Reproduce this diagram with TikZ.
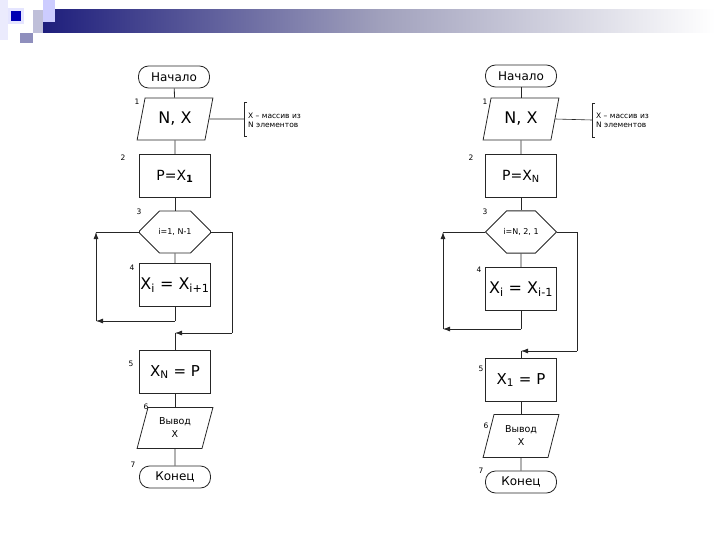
\documentclass[tikz,border=0pt]{standalone}
\usepackage{fontspec}
\setmainfont{DejaVu Sans}
\usetikzlibrary{shapes.geometric,shapes.misc,arrows.meta,calc}
\definecolor{navy}{HTML}{1E1E7C}
\definecolor{midbar}{HTML}{A0A0BC}
\tikzset{
  ln/.style={line width=0.8pt, draw=black!85},
  arr/.style={ln, -{Latex[length=7pt,width=5pt]}},
  term/.style={ln, rectangle, rounded corners=10pt, minimum width=71pt, minimum height=22pt, inner sep=0pt, font=\fontsize{12}{13}\selectfont},
  io/.style={ln, trapezium, trapezium left angle=72, trapezium right angle=108, trapezium stretches=true, minimum width=76pt, minimum height=42pt, inner sep=0pt},
  proc/.style={ln, rectangle, minimum width=71pt, minimum height=43pt, inner sep=0pt},
  hexa/.style={ln, chamfered rectangle, chamfered rectangle xsep=18pt, chamfered rectangle ysep=21pt, minimum width=71pt, minimum height=42pt, inner sep=0pt, font=\fontsize{8}{9}\selectfont},
  num/.style={inner sep=0pt, font=\fontsize{7.5}{8}\selectfont},
  note/.style={inner sep=0pt, anchor=west, align=left, font=\fontsize{7.5}{9}\selectfont},
}
\begin{document}
\begin{tikzpicture}[x=1pt,y=-1pt]
\useasboundingbox (0,0) rectangle (720,540);
% header decoration
\shade[left color=navy, right color=white, middle color=midbar] (43,10) rectangle (715,33);
\fill[black!10!blue!8] (0,0) rectangle (8,40);
\fill[blue!25!gray!40] (33,10) rectangle (43,33);
\fill[blue!20!white] (43,0) rectangle (55,22);
\fill[navy!50!white] (20,33) rectangle (33,43);
\fill[blue!10!white] (8,8) rectangle (24,24);
\fill[blue!70!black] (11,11) rectangle (21,21);

% ---------- left chart ----------
\node[term] (Ls) at (174,77) {Начало};
\node[io, font=\fontsize{16}{18}\selectfont] (L1) at (175,119) {N, X};
\node[proc, font=\fontsize{14}{16}\selectfont] (L2) at (175,176) {P=X\textsubscript{\bfseries 1}};
\node[hexa] (L3) at (175,232) {i=1, N-1};
\node[proc, font=\fontsize{16}{18}\selectfont] (L4) at (175,285) {X\textsubscript{i} = X\textsubscript{i+1}};
\node[proc, font=\fontsize{15}{17}\selectfont] (L5) at (175,372) {X\textsubscript{N} = P};
\node[io, minimum height=41pt, align=center, font=\fontsize{9.5}{13}\selectfont] (L6) at (175,428) {Вывод\\X};
\node[term] (L7) at (175,477) {Конец};
\node[num] at (137,102) {1};
\node[num] at (123,158) {2};
\node[num] at (139,212) {3};
\node[num] at (132,268) {4};
\node[num] at (131,364) {5};
\node[num] at (146,407) {6};
\node[num] at (133,465) {7};
\draw[ln] (Ls) -- (L1);
\draw[ln] (L1) -- (L2);
\draw[ln] (L2) -- (L3);
\draw[ln] (L3) -- (L4);
\coordinate (La) at (175,321);
\coordinate (Lb) at (96,321);
\coordinate (Lc) at (96,232);
\draw[ln] (L4.south) -- (La);
\draw[arr] (La) -- (Lb);
\draw[arr] (Lb) -- (Lc);
\draw[ln] (Lc) -- (L3.west);
\coordinate (Ld) at (232,232);
\coordinate (Le) at (232,333);
\coordinate (Lf) at (175,333);
\draw[ln] (L3.east) -- (Ld) -- (Le);
\draw[arr] (Le) -- (Lf);
\draw[ln] (Lf) -- (L5.north);
\draw[ln] (L5) -- (L6);
\draw[ln] (L6) -- (L7);
% note
\coordinate (Lnt) at (244,102);
\coordinate (Lnb) at (244,136);
\coordinate (Lnm) at (244,119);
\draw[ln, line width=0.5pt] ($(Lnt)+(3,0)$) -- (Lnt) -- (Lnb) -- ($(Lnb)+(3,0)$);
\draw[ln, line width=0.6pt] (L1.east) -- (Lnm);
\node[note] (Lnote) at (248,120) {X – массив из\\N элементов};

% ---------- right chart ----------
\node[term] (Rs) at (521,76) {Начало};
\node[io, font=\fontsize{16}{18}\selectfont] (R1) at (521,119) {N, X};
\node[proc, font=\fontsize{14}{16}\selectfont] (R2) at (521,176) {P=X\textsubscript{N}};
\node[hexa] (R3) at (521,232) {i=N, 2, 1};
\node[proc, font=\fontsize{16}{18}\selectfont] (R4) at (521,289) {X\textsubscript{i} = X\textsubscript{i-1}};
\node[proc, font=\fontsize{15}{17}\selectfont] (R5) at (521,380) {X\textsubscript{1} = P};
\node[io, minimum height=43pt, align=center, font=\fontsize{9.5}{13}\selectfont] (R6) at (521,436) {Вывод\\X};
\node[term] (R7) at (521,482) {Конец};
\node[num] at (485,102) {1};
\node[num] at (471,158) {2};
\node[num] at (485,212) {3};
\node[num] at (479,270) {4};
\node[num] at (481,369) {5};
\node[num] at (486,426) {6};
\node[num] at (481,471) {7};
\draw[ln] (Rs) -- (R1);
\draw[ln] (R1) -- (R2);
\draw[ln] (R2) -- (R3);
\draw[ln] (R3) -- (R4);
\coordinate (Ra) at (521,329);
\coordinate (Rb) at (443,329);
\coordinate (Rc) at (443,232);
\draw[ln] (R4.south) -- (Ra);
\draw[arr] (Ra) -- (Rb);
\draw[arr] (Rb) -- (Rc);
\draw[ln] (Rc) -- (R3.west);
\coordinate (Rd) at (577,232);
\coordinate (Re) at (577,351);
\coordinate (Rf) at (521,351);
\draw[ln] (R3.east) -- (Rd) -- (Re);
\draw[arr] (Re) -- (Rf);
\draw[ln] (Rf) -- (R5.north);
\draw[ln] (R5) -- (R6);
\draw[ln] (R6) -- (R7);
\coordinate (Rnt) at (592,103);
\coordinate (Rnb) at (592,137);
\coordinate (Rnm) at (592,120);
\draw[ln, line width=0.5pt] ($(Rnt)+(3,0)$) -- (Rnt) -- (Rnb) -- ($(Rnb)+(3,0)$);
\draw[ln, line width=0.6pt] (R1.east) -- (Rnm);
\node[note] (Rnote) at (596,120) {X – массив из\\N элементов};
\end{tikzpicture}
\end{document}
